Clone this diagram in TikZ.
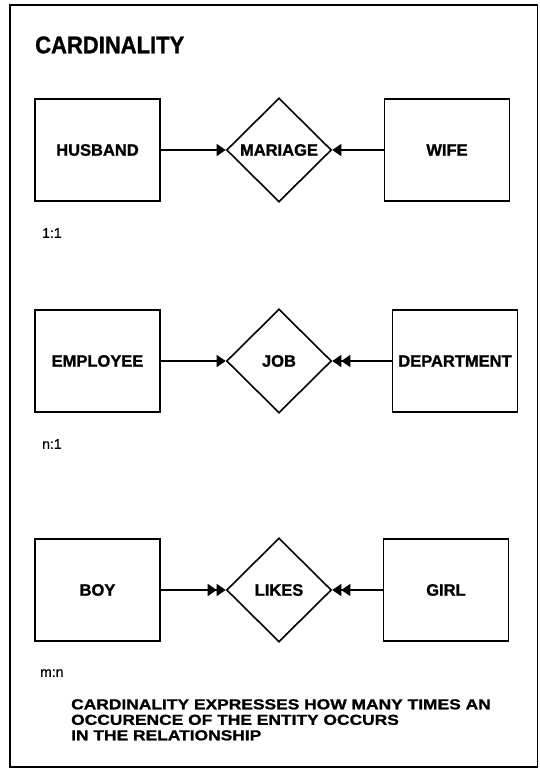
\documentclass[tikz,border=0pt]{standalone}
\usepackage{fontspec}
\setmainfont{Liberation Sans}[BoldFeatures={FakeBold=1.2}]
\newfontfamily\widesans{Liberation Sans}[FakeStretch=1.2,BoldFeatures={FakeBold=1.2}]
\newfontfamily\medsans{Liberation Sans}[FakeBold=0.6]
\usetikzlibrary{arrows.meta,shapes.geometric}

\begin{document}
\begin{tikzpicture}[x=1pt,y=-1pt,
  entity/.style={draw,line width=1.8pt,minimum width=125pt,minimum height=102pt,
    inner sep=0pt,font=\bfseries\fontsize{16.5}{18}\selectfont},
  relation/.style={draw,diamond,line width=1.6pt,minimum width=105pt,minimum height=104pt,
    inner sep=0pt,font=\bfseries\fontsize{16.5}{18}\selectfont},
  link/.style={line width=1.5pt},
  one/.style={link,-{Triangle[length=9pt,width=12pt]}},
  many/.style={link,-{Triangle[length=9pt,width=12pt]Triangle[length=9pt,width=12pt]}},
  ratio/.style={anchor=west,inner sep=0pt,font=\medsans\fontsize{14}{16}\selectfont},
  frame/.style={line width=1.3pt}
]
\useasboundingbox (0,0) rectangle (539,773);

% outer frame
\draw[frame] (10,5) rectangle (537.5,767);

% title
\node[anchor=west,inner sep=0pt,font=\bfseries\fontsize{22}{24}\selectfont] (title) at (35,45)
  {\scalebox{1}[1.1]{CARDINALITY}};

% 1:1
\node[entity] (husband) at (97.5,150) {HUSBAND};
\node[relation] (mariage) at (279,150) {MARIAGE};
\node[entity] (wife) at (447,150) {WIFE};
\draw[one] (husband.east) -- (mariage.west);
\draw[one] (wife.west) -- (mariage.east);
\node[ratio] (r1) at (42,233) {1:1};

% n:1
\node[entity] (employee) at (97.5,361) {EMPLOYEE};
\node[relation] (job) at (279,361) {JOB};
\node[entity] (department) at (455,361) {DEPARTMENT};
\draw[one] (employee.east) -- (job.west);
\draw[many] (department.west) -- (job.east);
\node[ratio] (r2) at (42,444) {n:1};

% m:n
\node[entity] (boy) at (97.5,590) {BOY};
\node[relation] (likes) at (279,590) {LIKES};
\node[entity] (girl) at (446,590) {GIRL};
\draw[many] (boy.east) -- (likes.west);
\draw[many] (girl.west) -- (likes.east);
\node[ratio] (r3) at (40,673) {m:n};

% note
\node[anchor=north west,inner sep=0pt,align=left,
  font=\widesans\bfseries\fontsize{14.5}{15.5}\selectfont] (note) at (71,699)
  {CARDINALITY EXPRESSES HOW MANY TIMES AN\\
   OCCURENCE OF THE ENTITY OCCURS\\
   IN THE RELATIONSHIP};
\end{tikzpicture}
\end{document}
